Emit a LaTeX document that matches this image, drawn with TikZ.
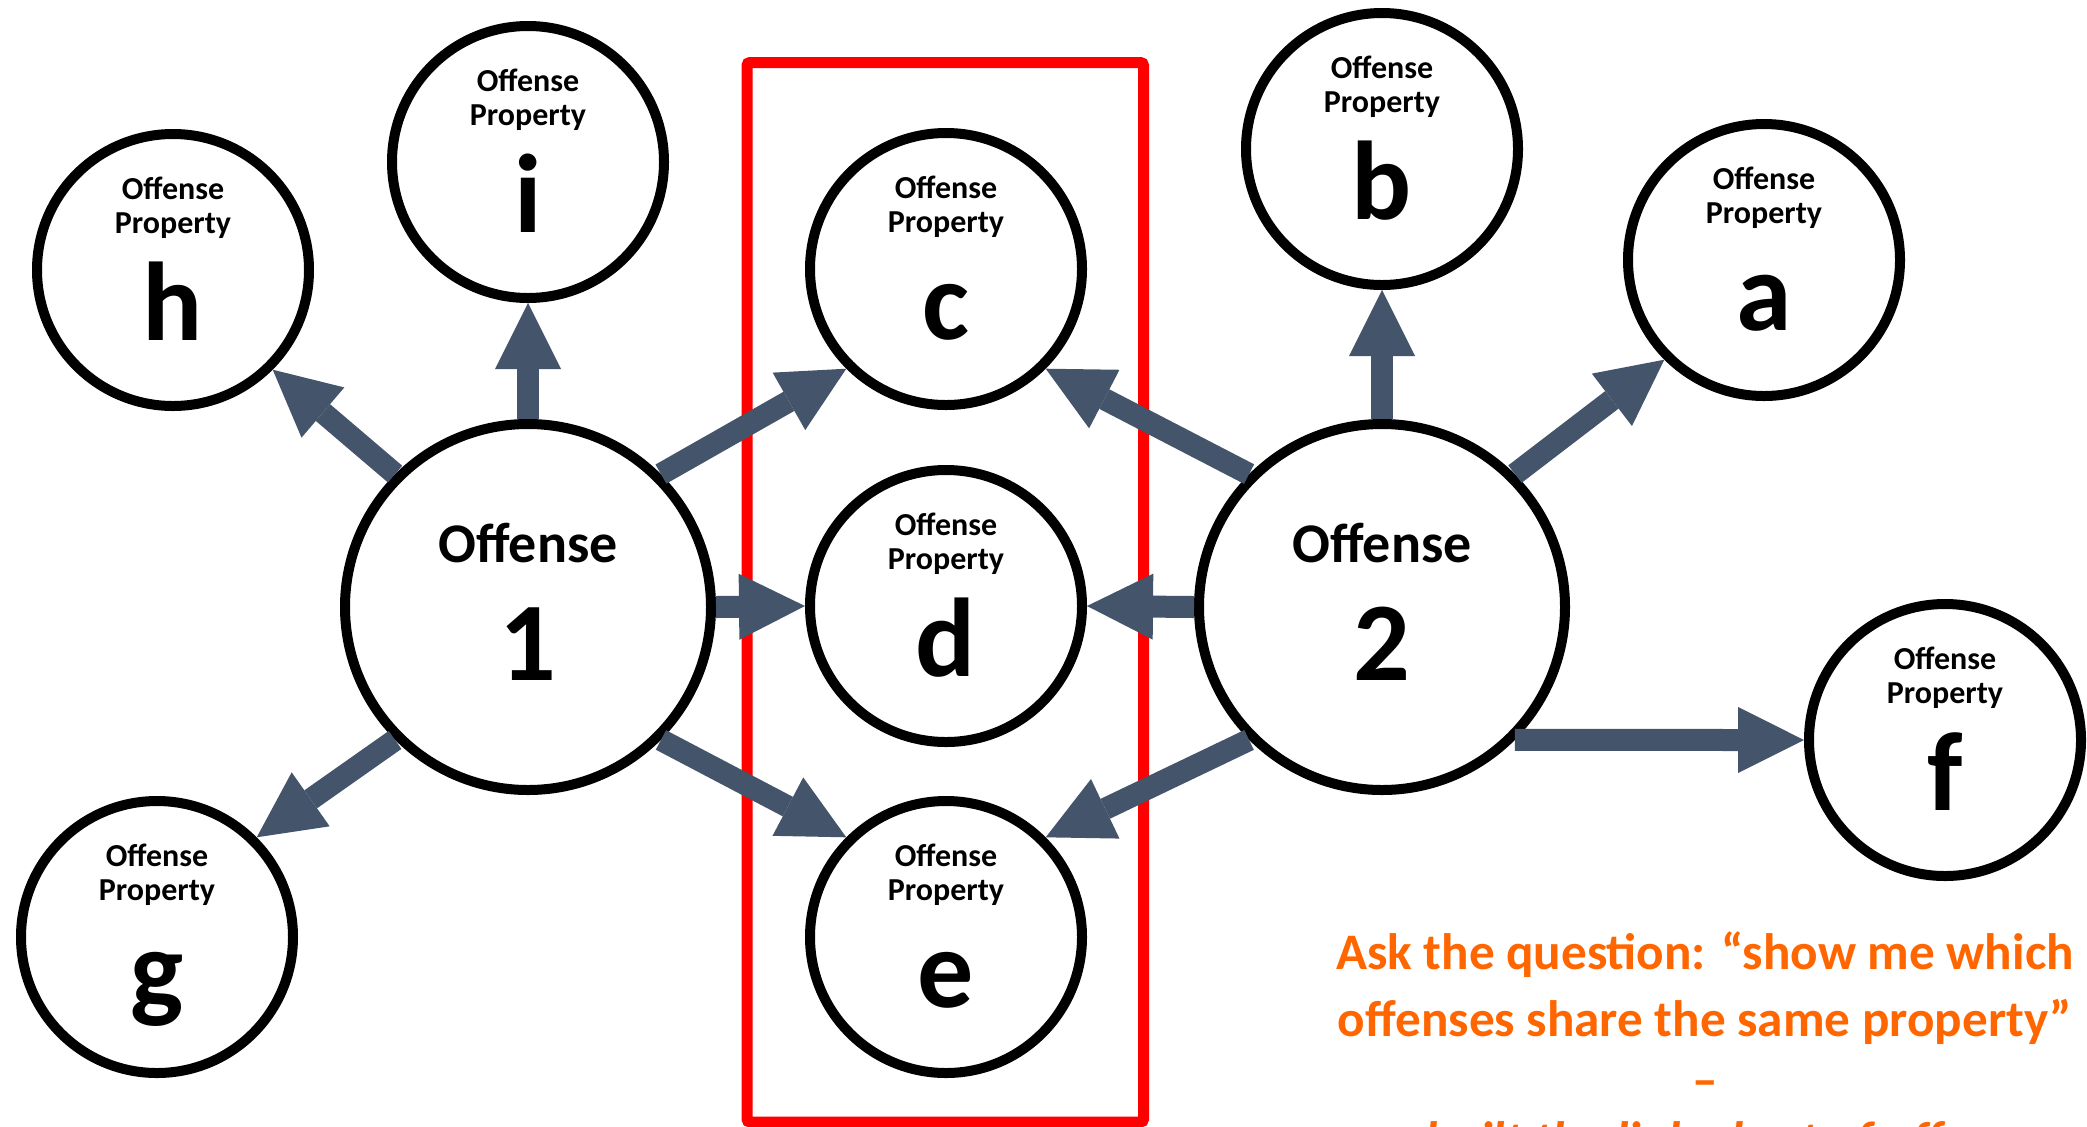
\documentclass[tikz,border=0pt]{standalone}
\usepackage{fontspec}
\setmainfont{Carlito}
\usetikzlibrary{arrows.meta,calc}
\definecolor{arrowc}{HTML}{44546A}
\definecolor{orangec}{HTML}{FF6600}
\definecolor{redc}{HTML}{FF0000}
\newcommand\mkprop[4]{%
  \node[propc] (#1) at (#2,#3) {};
  \node[smalltxt] (#1-t1) at ($(#1.center)+(0,-71)$) {Offense};
  \node[smalltxt] (#1-t2) at ($(#1.center)+(0,-37)$) {Property};
  \node[bigletter] (#1-t3) at ($(#1.center)+(0,70)$) {#4};
}
\newcommand\mkoff[4]{%
  \node[offc] (#1) at (#2,#3) {};
  \node[bigword] (#1-t1) at ($(#1.center)+(0,-45)$) {Offense};
  \node[bigletter] (#1-t2) at ($(#1.center)+(0,73)$) {#4};
}
\begin{document}
\begin{tikzpicture}[x=0.5pt,y=-0.5pt,
  propc/.style={circle,draw=black,line width=5pt,fill=white,minimum size=136pt,inner sep=0pt},
  offc/.style={circle,draw=black,line width=5pt,fill=white,minimum size=183pt,inner sep=0pt},
  smalltxt/.style={anchor=base,inner sep=0pt,font=\bfseries\fontsize{16pt}{17pt}\selectfont},
  bigletter/.style={anchor=base,inner sep=0pt,font=\bfseries\fontsize{56pt}{60pt}\selectfont},
  bigword/.style={anchor=base,inner sep=0pt,font=\bfseries\fontsize{28pt}{30pt}\selectfont},
  conn/.style={draw=arrowc,line width=11pt,-{Triangle[length=33pt,width=33pt,line width=0pt]}},
  note/.style={anchor=base,inner sep=0pt,text=orangec,font=\bfseries\fontsize{25.6pt}{30pt}\selectfont},
  frame/.style={draw=redc,line width=5.5pt,rounded corners=1.5pt}
]
\useasboundingbox (0,0) rectangle (2087,1126);
\clip (0,0) rectangle (2087,1126);
\fill[white] (0,0) rectangle (2087,1126);

% red frame
\draw[frame] (747,62.5) rectangle (1143.5,1122);

% property nodes
\mkprop{h}{173}{270}{h}
\mkprop{i}{528}{162}{i}
\mkprop{c}{946}{269}{c}
\mkprop{b}{1382}{149}{b}
\mkprop{a}{1764}{260}{a}
\mkprop{d}{946}{606}{d}
\mkprop{f}{1945}{740}{f}
\mkprop{g}{157}{937}{g}
\mkprop{e}{946}{937}{e}

% offense nodes
\mkoff{o1}{528}{607}{1}
\mkoff{o2}{1382}{607}{2}

% connectors
\draw[conn] (o1.135) -- (h.-45);
\draw[conn] (o1.90) -- (i.-90);
\draw[conn] (o1.45) -- (c.225);
\draw[conn] (o1.0) -- (d.180);
\draw[conn] (o1.-45) -- (e.135);
\draw[conn] (o1.225) -- (g.45);
\draw[conn] (o2.135) -- (c.-45);
\draw[conn] (o2.90) -- (b.-90);
\draw[conn] (o2.45) -- (a.225);
\draw[conn] (o2.180) -- (d.0);
\draw[conn] (o2.225) -- (e.45);
\draw[conn] (o2.-45) -- (f.180);

% note
\node[note] (n1) at (1705,969) {Ask the question: “show me which};
\node[note] (n2) at (1705,1036) {offenses share the same property”};
\node[note] (n3) at (1705,1097) {–};
\node[note,font=\bfseries\itshape\fontsize{25.6pt}{30pt}\selectfont] (n4) at (1705,1157) {we built the linked set of offenses};
\end{tikzpicture}
\end{document}
